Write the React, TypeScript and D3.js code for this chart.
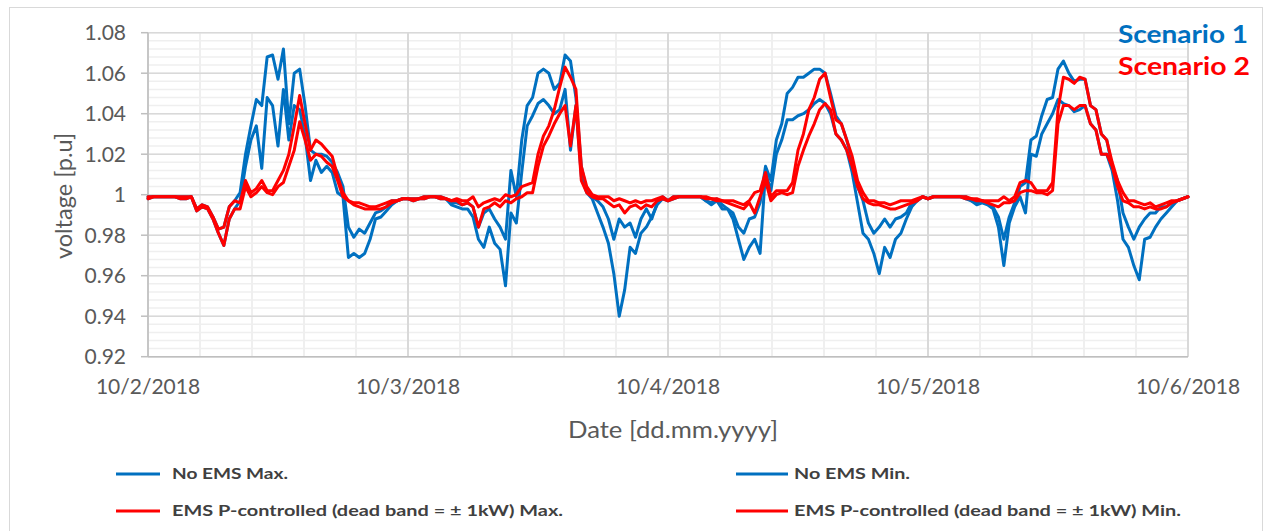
import React from "react";
import * as d3 from "d3";

// half-hourly samples from 10/2/2018 00:00 to 10/6/2018 00:00
const startTime = new Date(2018, 9, 2, 0, 0);
const endTime = new Date(2018, 9, 6, 0, 0);
const stepMinutes = 30;

const xTickLabels = ["10/2/2018", "10/3/2018", "10/4/2018", "10/5/2018", "10/6/2018"];
const yTickValues = [0.92, 0.94, 0.96, 0.98, 1.0, 1.02, 1.04, 1.06, 1.08];

const noEmsMax = [
  0.999, 0.999, 0.999, 0.999, 0.999, 0.999, 0.999, 0.999, 0.999, 0.993,
  0.995, 0.994, 0.989, 0.983, 0.984, 0.994, 0.997, 1.001, 1.02, 1.034,
  1.047, 1.044, 1.068, 1.069, 1.057, 1.072, 1.035, 1.06, 1.062, 1.044,
  1.022, 1.02, 1.02, 1.019, 1.016, 1.011, 1.004, 0.984, 0.979, 0.983,
  0.981, 0.986, 0.991, 0.992, 0.994, 0.997, 0.997, 0.998,
  0.998, 0.998, 0.998, 0.999, 0.999, 0.999, 0.999, 0.998, 0.996, 0.996,
  0.995, 0.996, 0.994, 0.984, 0.991, 0.993, 0.988, 0.984, 0.978, 1.012,
  0.999, 1.027, 1.044, 1.048, 1.06, 1.062, 1.06, 1.052, 1.055, 1.069,
  1.066, 1.048, 1.014, 1.002, 0.999, 0.997, 0.994, 0.988, 0.978, 0.988,
  0.984, 0.986, 0.979, 0.988, 0.993, 0.988, 0.996, 0.999,
  0.997, 0.999, 0.999, 0.999, 0.999, 0.999, 0.999, 0.997, 0.996, 0.998,
  0.995, 0.993, 0.991, 0.984, 0.981, 0.988, 0.989, 0.996, 1.014, 1.007,
  1.027, 1.035, 1.05, 1.053, 1.058, 1.058, 1.06, 1.062, 1.062, 1.06,
  1.05, 1.039, 1.035, 1.027, 1.017, 1.004, 0.997, 0.986, 0.981, 0.984,
  0.988, 0.984, 0.988, 0.989, 0.991, 0.996, 0.997, 0.999,
  0.998, 0.999, 0.999, 0.999, 0.999, 0.999, 0.999, 0.999, 0.997, 0.996,
  0.997, 0.996, 0.994, 0.989, 0.978, 0.989, 0.996, 1.004, 1.006, 1.027,
  1.029, 1.039, 1.047, 1.048, 1.062, 1.066, 1.06, 1.056, 1.057, 1.057,
  1.044, 1.042, 1.03, 1.027, 1.014, 1.007, 0.991, 0.984, 0.978, 0.984,
  0.988, 0.991, 0.991, 0.994, 0.994, 0.996, 0.997, 0.998, 0.999,
];

const noEmsMin = [
  0.998, 0.999, 0.999, 0.999, 0.999, 0.999, 0.998, 0.998, 0.999, 0.992,
  0.994, 0.993, 0.988, 0.981, 0.975, 0.988, 0.993, 0.997, 1.014, 1.027,
  1.034, 1.013, 1.048, 1.044, 1.024, 1.052, 1.027, 1.044, 1.042, 1.029,
  1.007, 1.017, 1.011, 1.014, 1.011, 1.001, 0.999, 0.969, 0.971, 0.969,
  0.971, 0.978, 0.988, 0.989, 0.992, 0.995, 0.997, 0.998,
  0.998, 0.997, 0.998, 0.998, 0.999, 0.999, 0.998, 0.998, 0.995, 0.994,
  0.993, 0.993, 0.989, 0.978, 0.974, 0.984, 0.976, 0.973, 0.955, 0.991,
  0.986, 1.011, 1.034, 1.039, 1.045, 1.047, 1.044, 1.04, 1.042, 1.052,
  1.022, 1.044, 1.009, 1.001, 0.998, 0.991, 0.984, 0.976, 0.961, 0.94,
  0.953, 0.974, 0.971, 0.981, 0.984, 0.989, 0.995, 0.998,
  0.997, 0.998, 0.999, 0.999, 0.999, 0.999, 0.999, 0.997, 0.995, 0.997,
  0.993, 0.993, 0.988, 0.978, 0.968, 0.974, 0.978, 0.971, 1.011, 1.002,
  1.02, 1.027, 1.037, 1.037, 1.039, 1.04, 1.042, 1.045, 1.047, 1.045,
  1.04, 1.03, 1.027, 1.022, 1.011, 0.996, 0.981, 0.978, 0.971, 0.961,
  0.974, 0.969, 0.978, 0.981, 0.988, 0.994, 0.997, 0.999,
  0.998, 0.999, 0.999, 0.999, 0.999, 0.999, 0.999, 0.998, 0.997, 0.995,
  0.996, 0.995, 0.993, 0.984, 0.965, 0.986, 0.994, 0.999, 0.991, 1.02,
  1.019, 1.03, 1.035, 1.04, 1.047, 1.045, 1.044, 1.041, 1.042, 1.044,
  1.035, 1.032, 1.02, 1.02, 1.012, 0.997, 0.978, 0.974, 0.965, 0.958,
  0.978, 0.979, 0.984, 0.988, 0.991, 0.994, 0.997, 0.998, 0.999,
];

const emsMax = [
  0.999, 0.999, 0.999, 0.999, 0.999, 0.999, 0.999, 0.999, 0.999, 0.993,
  0.995, 0.994, 0.989, 0.983, 0.984, 0.994, 0.997, 0.996, 1.007, 1.001,
  1.003, 1.007, 1.002, 1.002, 1.007, 1.012, 1.02, 1.034, 1.049, 1.035,
  1.022, 1.027, 1.025, 1.022, 1.019, 1.009, 1.001, 0.997, 0.996, 0.996,
  0.995, 0.994, 0.994, 0.995, 0.996, 0.997, 0.997, 0.998,
  0.998, 0.998, 0.998, 0.999, 0.999, 0.999, 0.999, 0.998, 0.997, 0.998,
  0.997, 0.997, 0.999, 0.994, 0.996, 0.997, 0.998, 0.997, 1.0, 0.999,
  1.0, 1.004, 1.005, 1.006, 1.02, 1.029, 1.034, 1.042, 1.053, 1.063,
  1.058, 1.052, 1.014, 1.004, 1.0, 0.999, 0.999, 0.999, 0.997, 0.998,
  0.997, 0.996, 0.997, 0.996, 0.997, 0.997, 0.998, 0.999,
  0.997, 0.999, 0.999, 0.999, 0.999, 0.999, 0.999, 0.999, 0.998, 0.998,
  0.997, 0.997, 0.997, 0.996, 0.995, 0.997, 1.001, 1.002, 1.011, 0.999,
  1.002, 1.002, 1.002, 1.006, 1.022, 1.03, 1.042, 1.048, 1.057, 1.06,
  1.048, 1.037, 1.035, 1.027, 1.019, 1.007, 1.001, 0.997, 0.997, 0.996,
  0.996, 0.995, 0.996, 0.997, 0.997, 0.997, 0.998, 0.999,
  0.998, 0.999, 0.999, 0.999, 0.999, 0.999, 0.999, 0.999, 0.998, 0.998,
  0.997, 0.997, 0.997, 0.997, 0.999, 0.997, 0.999, 1.006, 1.007, 1.006,
  1.002, 1.002, 1.002, 1.006, 1.042, 1.058, 1.057, 1.055, 1.058, 1.057,
  1.044, 1.042, 1.03, 1.027, 1.016, 1.007, 1.001, 0.997, 0.997, 0.996,
  0.995, 0.996, 0.994, 0.995, 0.996, 0.997, 0.997, 0.998, 0.999,
];

const emsMin = [
  0.998, 0.999, 0.999, 0.999, 0.999, 0.999, 0.998, 0.998, 0.999, 0.992,
  0.994, 0.993, 0.988, 0.981, 0.975, 0.988, 0.993, 0.993, 1.004, 0.999,
  1.001, 1.004, 1.001, 1.0, 1.004, 1.006, 1.014, 1.022, 1.036, 1.027,
  1.017, 1.02, 1.019, 1.016, 1.014, 1.007, 0.999, 0.997, 0.995, 0.994,
  0.993, 0.993, 0.993, 0.993, 0.994, 0.996, 0.997, 0.998,
  0.998, 0.997, 0.998, 0.998, 0.999, 0.999, 0.998, 0.998, 0.997, 0.997,
  0.995, 0.996, 0.994, 0.984, 0.993, 0.994, 0.996, 0.994, 0.997, 0.996,
  0.998, 0.999, 1.001, 1.001, 1.014, 1.024, 1.029, 1.035, 1.04, 1.044,
  1.024, 1.044, 1.007, 1.001, 0.999, 0.998, 0.998, 0.996, 0.994, 0.995,
  0.991, 0.994, 0.995, 0.993, 0.995, 0.994, 0.997, 0.998,
  0.997, 0.998, 0.999, 0.999, 0.999, 0.999, 0.999, 0.998, 0.998, 0.997,
  0.997, 0.996, 0.995, 0.994, 0.993, 0.996, 0.991, 0.999, 1.007, 0.997,
  1.0, 1.001, 1.0, 1.001, 1.014, 1.022, 1.029, 1.035, 1.042, 1.045,
  1.042, 1.03, 1.027, 1.022, 1.014, 1.004, 0.998, 0.996, 0.995, 0.995,
  0.994, 0.993, 0.993, 0.994, 0.995, 0.996, 0.997, 0.999,
  0.998, 0.999, 0.999, 0.999, 0.999, 0.999, 0.999, 0.998, 0.998, 0.997,
  0.997, 0.996, 0.995, 0.994, 0.996, 0.996, 0.997, 1.001, 1.002, 1.002,
  1.001, 1.001, 1.0, 1.002, 1.035, 1.044, 1.044, 1.042, 1.044, 1.044,
  1.035, 1.032, 1.02, 1.02, 1.014, 1.004, 0.997, 0.996, 0.994, 0.994,
  0.993, 0.994, 0.993, 0.993, 0.994, 0.996, 0.997, 0.998, 0.999,
];

const series = [
  { name: "No EMS Max.", values: noEmsMax, color: "#0070C0" },
  { name: "No EMS Min.", values: noEmsMin, color: "#0070C0" },
  { name: "EMS P-controlled (dead band = \u00b1 1kW) Max.", values: emsMax, color: "#FF0000" },
  { name: "EMS P-controlled (dead band = \u00b1 1kW) Min.", values: emsMin, color: "#FF0000" },
];

const W = 1272;
const H = 531;
const plot = { left: 148, right: 1188, top: 32.7, bottom: 356.7 };
const font = "Lato, 'Open Sans', sans-serif";

function App() {
  const x = d3.scaleTime().domain([startTime, endTime]).range([plot.left, plot.right]);
  const y = d3.scaleLinear().domain([0.92, 1.08]).range([plot.bottom, plot.top]);

  const timeAt = (i: number) => d3.timeMinute.offset(startTime, i * stepMinutes);
  const line = d3
    .line<number>()
    .x((_, i) => x(timeAt(i)))
    .y((d) => y(d));

  // gridlines: minor every 0.004 p.u. and every 0.2 day
  const minorY = d3.range(0, 41).map((i) => 0.92 + i * 0.004);
  const dayTicks = d3.timeDay.range(startTime, d3.timeDay.offset(endTime, 1));
  const minorX = d3.range(0, 21).map((i) => d3.timeMinute.offset(startTime, i * 288));

  const legendRows = [
    { items: [0, 1], y: 474 },
    { items: [2, 3], y: 511 },
  ];
  const legendCols = [
    { x1: 116, x2: 160, tx: 172 },
    { x1: 736, x2: 788, tx: 794 },
  ];
  const legendWidths = [116, 116, 391, 387];

  return (
    <svg
      width={W}
      height={H}
      style={{ position: "absolute", left: 0, top: 0, background: "#fff" }}
      fontFamily={font}
    >
      <rect x={0} y={0} width={W} height={H} fill="#fff" />
      <rect x={9.5} y={7.5} width={1253} height={560} fill="none" stroke="#d9d9d9" />

      {/* minor gridlines */}
      {minorY.map((v, i) => (
        <line key={"my" + i} x1={plot.left} x2={plot.right} y1={y(v)} y2={y(v)} stroke="#efefef" strokeWidth={1.5} />
      ))}
      {minorX.map((d, i) => (
        <line key={"mx" + i} x1={x(d)} x2={x(d)} y1={plot.top} y2={plot.bottom} stroke="#efefef" strokeWidth={2} />
      ))}
      {/* major gridlines */}
      {yTickValues.map((v) => (
        <line key={"gy" + v} x1={plot.left} x2={plot.right} y1={y(v)} y2={y(v)} stroke="#d9d9d9" strokeWidth={1.5} />
      ))}
      {dayTicks.map((d, i) => (
        <line key={"gx" + i} x1={x(d)} x2={x(d)} y1={plot.top} y2={plot.bottom} stroke="#d9d9d9" strokeWidth={2} />
      ))}

      {/* axes */}
      <line x1={plot.left} x2={plot.left} y1={plot.top} y2={plot.bottom} stroke="#bfbfbf" strokeWidth={1.5} />
      <line x1={plot.left} x2={plot.right} y1={plot.bottom} y2={plot.bottom} stroke="#bfbfbf" strokeWidth={1.5} />
      {yTickValues.map((v) => (
        <g key={"yt" + v}>
          <line x1={plot.left - 7} x2={plot.left} y1={y(v)} y2={y(v)} stroke="#bfbfbf" strokeWidth={1.5} />
          <text x={126} y={y(v)} dy="0.36em" textAnchor="end" fontSize={21} fill="#595959">
            {d3.format("")(+v.toFixed(2))}
          </text>
        </g>
      ))}
      {dayTicks.map((d, i) => (
        <text key={"xt" + i} x={x(d)} y={394} textAnchor="middle" fontSize={21} fill="#595959">
          {xTickLabels[i]}
        </text>
      ))}

      <text
        transform="translate(72, 196) rotate(-90)"
        textAnchor="middle"
        fontSize={23.5}
        fill="#595959"
      >
        voltage [p.u]
      </text>
      <text x={673} y={438} textAnchor="middle" fontSize={24} fill="#595959" textLength={210} lengthAdjust="spacingAndGlyphs">
        Date [dd.mm.yyyy]
      </text>

      {/* series */}
      {series.map((s) => (
        <path
          key={s.name}
          d={line(s.values) || ""}
          fill="none"
          stroke={s.color}
          strokeWidth={3}
          strokeLinejoin="round"
          strokeLinecap="round"
        />
      ))}

      <text x={1118} y={43} fontSize={24} fontWeight="bold" fill="#0070C0" textLength={130} lengthAdjust="spacingAndGlyphs">
        Scenario 1
      </text>
      <text x={1118} y={75} fontSize={24} fontWeight="bold" fill="#FF0000" textLength={132} lengthAdjust="spacingAndGlyphs">
        Scenario 2
      </text>

      {/* legend */}
      {legendRows.map((row) =>
        row.items.map((si, ci) => (
          <g key={"lg" + si}>
            <line
              x1={legendCols[ci].x1}
              x2={legendCols[ci].x2}
              y1={row.y}
              y2={row.y}
              stroke={series[si].color}
              strokeWidth={3}
            />
            <text
              x={legendCols[ci].tx}
              y={row.y}
              dy="0.36em"
              fontSize={15}
              fontWeight="bold"
              fill="#404040"
              textLength={legendWidths[si]}
              lengthAdjust="spacingAndGlyphs"
            >
              {series[si].name}
            </text>
          </g>
        ))
      )}
    </svg>
  );
}

export default App;
